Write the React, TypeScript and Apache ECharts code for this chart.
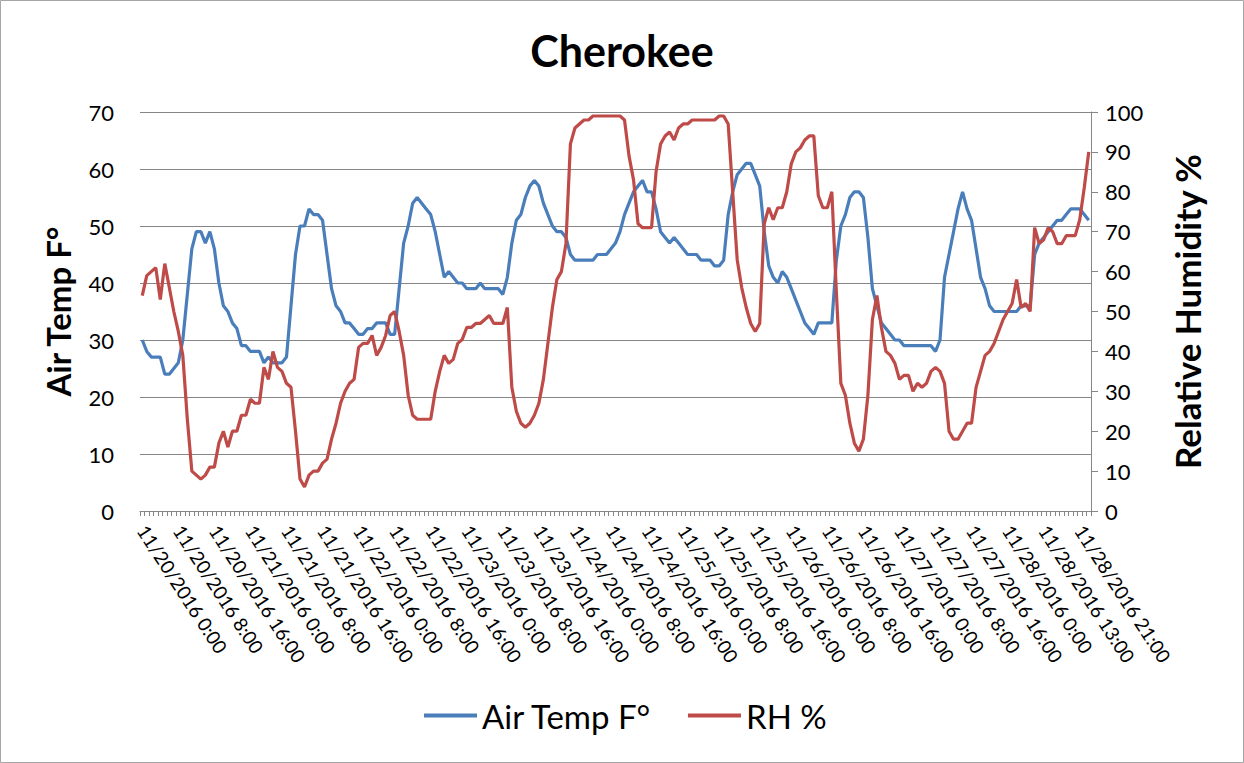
import React, { useEffect, useRef } from "react";
import * as echarts from "echarts";

// Air temperature (°F), one value per record
const airTemp: number[] = [
  30, 28, 27, 27, 27, 24, 24, 25, 26, 30, 38, 46, 49, 49, 47, 49, 46, 40, 36, 35,
  33, 32, 29, 29, 28, 28, 28, 26, 27, 26, 26, 26, 27, 36, 45, 50, 50, 53, 52, 52,
  51, 45, 39, 36, 35, 33, 33, 32, 31, 31, 32, 32, 33, 33, 33, 31, 31, 39, 47, 50,
  54, 55, 54, 53, 52, 49, 45, 41, 42, 41, 40, 40, 39, 39, 39, 40, 39, 39, 39, 39,
  38, 41, 47, 51, 52, 55, 57, 58, 57, 54, 52, 50, 49, 49, 48, 45, 44, 44, 44, 44,
  44, 45, 45, 45, 46, 47, 49, 52, 54, 56, 57, 58, 56, 56, 53, 49, 48, 47, 48, 47,
  46, 45, 45, 45, 44, 44, 44, 43, 43, 44, 52, 56, 59, 60, 61, 61, 59, 57, 49, 43,
  41, 40, 42, 41, 39, 37, 35, 33, 32, 31, 33, 33, 33, 33, 44, 50, 52, 55, 56, 56,
  55, 48, 39, 36, 33, 32, 31, 30, 30, 29, 29, 29, 29, 29, 29, 29, 28, 30, 41, 45,
  49, 53, 56, 53, 51, 46, 41, 39, 36, 35, 35, 35, 35, 35, 35, 36, 36, 36, 45, 47,
  48, 49, 50, 51, 51, 52, 53, 53, 53, 52, 51,
];

// Relative humidity (%), one value per record
const relHumidity: number[] = [
  54, 59, 60, 61, 53, 62, 56, 50, 45, 39, 23, 10, 9, 8, 9, 11, 11, 17, 20, 16,
  20, 20, 24, 24, 28, 27, 27, 36, 33, 40, 36, 35, 32, 31, 20, 8, 6, 9, 10, 10,
  12, 13, 18, 22, 27, 30, 32, 33, 41, 42, 42, 44, 39, 41, 44, 49, 50, 45, 39, 29,
  24, 23, 23, 23, 23, 30, 35, 39, 37, 38, 42, 43, 46, 46, 47, 47, 48, 49, 47, 47,
  47, 51, 31, 25, 22, 21, 22, 24, 27, 33, 42, 51, 58, 60, 67, 92, 96, 97, 98, 98,
  99, 99, 99, 99, 99, 99, 99, 98, 89, 83, 72, 71, 71, 71, 85, 92, 94, 95, 93, 96,
  97, 97, 98, 98, 98, 98, 98, 98, 99, 99, 97, 80, 63, 56, 51, 47, 45, 47, 72, 76,
  73, 76, 76, 80, 87, 90, 91, 93, 94, 94, 79, 76, 76, 80, 55, 32, 29, 22, 17, 15,
  18, 29, 48, 54, 46, 40, 39, 37, 33, 34, 34, 30, 32, 31, 32, 35, 36, 35, 32, 20,
  18, 18, 20, 22, 22, 31, 35, 39, 40, 42, 45, 48, 50, 52, 58, 51, 52, 50, 71, 67,
  68, 71, 70, 67, 67, 69, 69, 69, 73, 81, 90,
];

// Record timestamps: days of November 2016 and the hours logged on each day
const days: number[] = [20, 21, 22, 23, 24, 25, 26, 27, 28];
const fullDayHours: number[] = [
  0, 1, 2, 3, 4, 5, 6, 7, 8, 9, 10, 11, 12, 13, 14, 15, 16, 17, 18, 19, 20, 21, 22, 23,
];
const lastDayHours: number[] = [
  0, 6, 7, 8, 9, 10, 11, 12, 13, 14, 15, 16, 17, 18, 19, 20, 21, 22, 23,
];

const categories: string[] = [];
days.forEach((d, di) => {
  const hrs = di === days.length - 1 ? lastDayHours : fullDayHours;
  hrs.forEach((h) => categories.push(`11/${d}/2016 ${h}:00`));
});

const tempTicks = { min: 0, max: 70, interval: 10 };
const rhTicks = { min: 0, max: 100, interval: 10 };

const FONT = "Lato, 'Open Sans', 'DejaVu Sans', sans-serif";
const BLUE = "#4A7EBB";
const RED = "#BE4B48";
const GRID = "#868686";

export default function App() {
  const ref = useRef<HTMLDivElement>(null);

  useEffect(() => {
    if (!ref.current) return;
    const chart = echarts.init(ref.current, undefined, { renderer: "svg" });
    chart.setOption({
      animation: false,
      backgroundColor: "#ffffff",
      title: {
        text: "Cherokee",
        left: "center",
        top: 24,
        textStyle: { fontFamily: FONT, fontSize: 43, fontWeight: "bold", color: "#000" },
      },
      legend: {
        bottom: 26,
        left: 419,
        itemWidth: 53,
        itemHeight: 4,
        itemGap: 36,
        icon: "rect",
        textStyle: { fontFamily: FONT, fontSize: 33, color: "#000" },
        data: ["Air Temp F°", "RH %"],
      },
      grid: { left: 140, right: 153, top: 112, bottom: 252, outerBoundsMode: "none" },
      xAxis: {
        type: "category",
        data: categories,
        boundaryGap: true,
        axisLine: { lineStyle: { color: GRID, width: 1 } },
        axisTick: { show: true, interval: 0, length: 5, lineStyle: { color: GRID } },
        axisLabel: {
          interval: 7,
          rotate: -57,
          margin: 16,
          fontFamily: FONT,
          fontSize: 19,
          color: "#000",
        },
        splitLine: { show: false },
      },
      yAxis: [
        {
          type: "value",
          ...tempTicks,
          name: "Air Temp F°",
          nameLocation: "middle",
          nameRotate: 90,
          nameGap: 66,
          nameTextStyle: { fontFamily: FONT, fontSize: 33, fontWeight: "bold", color: "#000" },
          axisLine: { show: false },
          axisTick: { show: false },
          axisLabel: { fontFamily: FONT, fontSize: 22, color: "#000", margin: 26 },
          splitLine: { show: true, lineStyle: { color: GRID, width: 1 } },
        },
        {
          type: "value",
          ...rhTicks,
          position: "right",
          name: "Relative Humidity %",
          nameLocation: "middle",
          nameRotate: 90,
          nameGap: 78,
          nameTextStyle: { fontFamily: FONT, fontSize: 35, fontWeight: "bold", color: "#000" },
          axisLine: { show: true, lineStyle: { color: GRID, width: 1 } },
          axisTick: { show: true, length: 7, lineStyle: { color: GRID } },
          axisLabel: { fontFamily: FONT, fontSize: 22, color: "#000", margin: 14 },
          splitLine: { show: false },
        },
      ],
      series: [
        {
          name: "Air Temp F°",
          type: "line",
          yAxisIndex: 0,
          data: airTemp,
          showSymbol: false,
          symbol: "none",
          color: BLUE,
          lineStyle: { color: BLUE, width: 3.2 },
        },
        {
          name: "RH %",
          type: "line",
          yAxisIndex: 1,
          data: relHumidity,
          showSymbol: false,
          symbol: "none",
          color: RED,
          lineStyle: { color: RED, width: 3.2 },
        },
      ],
      graphic: [
        {
          type: "rect",
          shape: { x: 0.5, y: 0.5, width: 1243, height: 762 },
          style: { fill: "none", stroke: "#A6A6A6", lineWidth: 1 },
          silent: true,
        },
      ],
    });
    return () => chart.dispose();
  }, []);

  return (
    <div
      ref={ref}
      style={{ position: "fixed", left: 0, top: 0, width: 1244, height: 763 }}
    />
  );
}
